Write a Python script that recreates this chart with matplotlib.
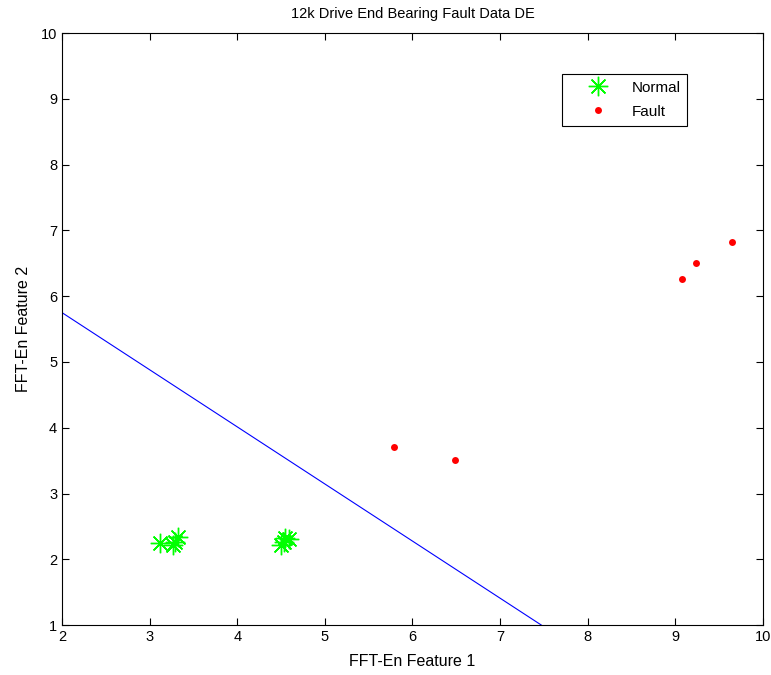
import matplotlib
matplotlib.use("Agg")
import matplotlib.pyplot as plt
import numpy as np

plt.rcParams['font.family'] = ['Liberation Sans', 'DejaVu Sans']

normal_x = [3.12, 3.29, 3.32, 3.27, 4.50, 4.55, 4.53, 4.59]
normal_y = [2.25, 2.27, 2.34, 2.22, 2.22, 2.33, 2.27, 2.31]
fault_x = [5.79, 6.49, 9.08, 9.23, 9.65]
fault_y = [3.70, 3.51, 6.26, 6.51, 6.83]
line_x = [2.0, 7.47]
line_y = [5.75, 1.0]

fig = plt.figure(figsize=(7.71, 6.75), dpi=100)
ax = fig.add_axes([0.0804, 0.074, 0.9092, 0.877])

ax.plot(normal_x, normal_y, linestyle='none', marker=(8, 2, 0), markersize=14,
        color='#00ff00', markeredgewidth=1.0, label='Normal')
ax.plot(fault_x, fault_y, linestyle='none', marker='o', markersize=5,
        color='red', markeredgewidth=0, label='Fault')
ax.plot(line_x, line_y, color='blue', linewidth=0.8)

ax.set_xlim(2, 10)
ax.set_ylim(1, 10)
ax.set_xticks(range(2, 11))
ax.set_yticks(range(1, 11))
ax.tick_params(direction='in', top=True, right=True, labelsize=10.5, length=5)
ax.set_xlabel('FFT-En Feature 1', fontsize=11.5, labelpad=7)
ax.set_ylabel('FFT-En Feature 2', fontsize=11.5, labelpad=7)
ax.set_title('12k Drive End Bearing Fault Data DE', fontsize=10.5, pad=11)

leg = ax.legend(loc='upper left', bbox_to_anchor=(0.713, 0.931), fancybox=False,
                edgecolor='black', framealpha=1, fontsize=11, borderaxespad=0,
                handlelength=3.8, handletextpad=0.3, labelspacing=0.65,
                borderpad=0.45)
leg.get_frame().set_linewidth(0.8)

fig.savefig('out.png', dpi=100)
